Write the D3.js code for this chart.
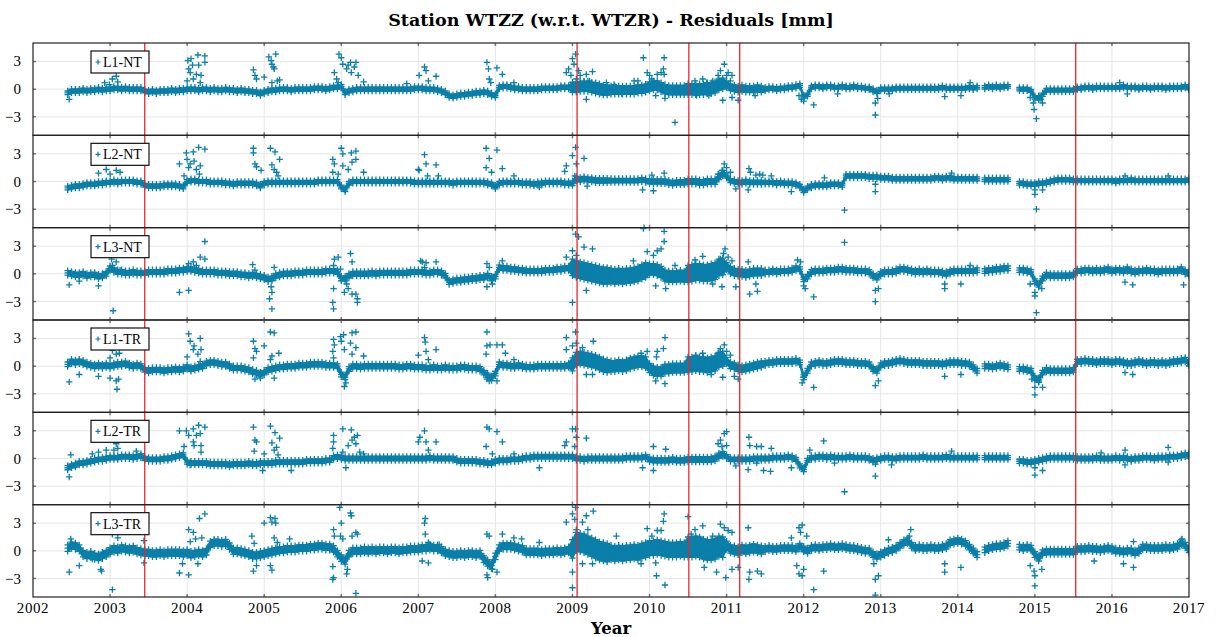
<!DOCTYPE html>
<html><head><meta charset="utf-8">
<script src="https://cdn.jsdelivr.net/npm/d3@7"></script>
<style>body{margin:0;background:#fff}svg{display:block}</style>
</head><body><svg id="c" width="1218" height="637"></svg>
<script>
// ---------------- DATA ----------------
const title = "Station WTZZ (w.r.t. WTZR) - Residuals [mm]";
const xLabel = "Year";
const xTicks = [2002,2003,2004,2005,2006,2007,2008,2009,2010,2011,2012,2013,2014,2015,2016,2017];
const yTicks = [-3,0,3];
const panelNames = ["L1-NT","L2-NT","L3-NT","L1-TR","L2-TR","L3-TR"];
const breakEpochs = [2003.45, 2009.06, 2010.51, 2011.17, 2015.53];
const firstEpoch = 2002.45, sampleStep = 0.05;

// band samples, one row per year (2002 starts at 2002.45), every 0.05 yr
const L1NT = [
[-0.4,-0.2,-0.2,-0.2,-0.1,-0.2,-0.1,-0.1,0,-0.1,0],
[0,0.1,0.1,0,0.1,0,0,0,0,-0.2,-0.3,-0.2,-0.3,-0.2,-0.2,-0.2,-0.1,-0.2,-0.1,-0.1],
[0,0,0,-0.1,0,0,-0.1,0,-0.1,-0.1,0,-0.1,-0.1,-0.2,-0.1,-0.2,-0.2,-0.3,-0.3,-0.5],
[-0.3,-0.2,-0.1,-0.1,0,0,0,-0.1,0,0,0,0,0,0.1,0.1,0.1,0,0.1,0.2,0.2],
[0.3,-0.4,-0.2,-0.1,0,0,0,0,0,0,0,0,0,0,0,0,0,0,0,0.1],
[0.1,0.1,0,0,0,-0.1,-0.2,-0.4,-0.7,-0.8,-0.7,-0.6,-0.6,-0.5,-0.5,-0.4,-0.4,-0.3,-0.4,-0.6],
[-0.7,0.2,0.3,0.3,0.2,0.1,0.1,0,0,0,0,0,0.1,0.1,0.1,0.1,0.1,0.2,0.2,0.2],
[0.2,0.2,0.3,0.3,0.3,0.2,0.1,0,-0.1,-0.1,-0.1,-0.1,-0.1,-0.1,-0.1,-0.1,-0.1,0,0,0.1],
[0.3,0.4,0.4,0.2,0,-0.1,-0.1,-0.1,-0.1,-0.1,0,0,0,0,0,0.1,0.1,0.2,0.5,0.6],
[0.5,0.2,0.1,0,0.1,0,0,0,0.1,0,0,0.1,0.1,0,0.1,0.1,0.2,0.2,0.3,0.4],
[-0.8,-0.6,0.2,0.3,0.3,0.2,0.3,0.3,0.2,0.2,0.3,0.2,0.2,0.3,0.2,0.2,0.1,0.1,-0.1,-0.3],
[0,0,0,0,0.1,0.1,0.1,0.1,0.1,0.1,0.1,0.1,0.1,0.1,0.1,0.1,0.2,0.1,0.1,0.1],
[0.1,0.1,0.1,0.2,0.1,0.2,null,0.2,0.3,0.2,0.3,0.2,0.3,0.3,null,null,0,0,0,-0.2],
[-0.9,-1.0,-0.6,-0.1,-0.1,-0.1,-0.1,-0.1,-0.1,-0.1,-0.1,0.1,0.1,0.2,0.2,0.1,0.2,0.2,0.2,0.2],
[0.2,0.2,0.2,0.3,0.2,0.2,0.2,0.1,0.2,0.2,0.1,0.2,0.2,0.2,0.1,0.2,0.2,0.2,0.2,0.3],
[0.1]];
const L2NT = [
[-0.7,-0.6,-0.5,-0.5,-0.4,-0.3,-0.3,-0.3,-0.2,-0.2,-0.1],
[-0.1,0,-0.1,0,0,0,0,-0.1,-0.1,-0.4,-0.5,-0.5,-0.5,-0.5,-0.4,-0.4,-0.4,-0.4,-0.5,-0.6],
[0,0.1,0.1,0,0,0,-0.1,-0.1,-0.1,-0.1,-0.2,-0.2,-0.3,-0.2,-0.2,-0.2,-0.2,-0.2,-0.3,-0.5],
[-0.2,-0.1,-0.1,-0.1,-0.1,-0.1,-0.1,-0.1,-0.1,-0.1,-0.1,-0.1,-0.1,-0.1,0,0,0,0,0,0],
[-0.6,-0.9,-0.2,0,0,0,0,0,0,0,0,0,0,0,0,0,0,0,0,-0.1],
[-0.1,-0.1,-0.1,-0.1,-0.1,-0.1,-0.1,-0.1,-0.1,-0.2,-0.1,-0.1,-0.1,-0.1,-0.1,-0.1,-0.1,-0.1,-0.2,-0.3],
[-0.6,-0.2,-0.1,-0.1,-0.1,-0.1,-0.1,-0.2,-0.2,-0.2,-0.3,-0.2,-0.2,-0.1,-0.1,-0.1,-0.1,-0.1,-0.2,-0.2],
[-0.2,0.3,0.2,0.3,0.2,0.2,0.1,0.1,0.1,0.1,0.1,0.1,0.1,0.1,0.1,0.1,0.1,0.1,0.2,0.1],
[0,0,0,0,0,-0.1,-0.2,-0.1,-0.1,-0.1,0,0,0,-0.1,-0.1,0,0,0,0.5,0.9],
[0.6,0.1,0,-0.1,-0.1,0,-0.1,-0.1,-0.1,-0.1,-0.1,-0.1,-0.1,-0.2,-0.1,-0.2,-0.2,-0.2,-0.3,-0.5],
[-1.0,-0.7,-0.5,-0.4,-0.4,-0.4,-0.4,-0.3,-0.3,-0.3,-0.4,0.6,0.6,0.6,0.6,0.6,0.6,0.5,0.5,0.5],
[0.4,0.4,0.4,0.3,0.3,0.3,0.3,0.3,0.3,0.3,0.3,0.3,0.3,0.3,0.4,0.4,0.3,0.4,0.4,0.3],
[0.3,0.3,0.3,0.3,0.3,0.3,null,0.2,0.2,0.2,0.2,0.2,0.2,0.2,null,null,-0.2,-0.2,-0.3,-0.3],
[-0.3,-0.2,-0.2,-0.1,0,0.1,0.2,0.2,0.2,0.2,0.1,0.1,0.1,0.1,0.1,0.1,0.1,0.1,0.1,0.1],
[0.1,0,0.1,0.1,0.1,0.2,0.1,0.1,0.1,0.1,0.1,0.1,0.1,0.1,0.1,0.1,0.1,0.1,0.1,0.1],
[0.2]];
const L3NT = [
[0.1,0,-0.1,-0.1,0,-0.2,-0.1,-0.1,-0.3,-0.2,0],
[0.6,0.4,0.2,0.2,0.1,0.1,0.2,0.1,0.1,0.1,0.2,0.2,0.2,0.2,0.2,0.3,0.3,0.3,0.4,0.4],
[0.5,0.5,0.4,0.3,0.2,0.2,0.2,0.2,0.1,0.1,0.1,0,0,0,-0.1,-0.1,-0.2,-0.1,-0.2,-0.3],
[-0.4,-0.6,-0.5,-0.2,-0.1,0,0,0,0.1,0.1,0.1,0.2,0.2,0.2,0.2,0.2,0.3,0.3,0.3,0.2],
[-0.5,-0.5,-0.2,0,0,0,0,0,0.1,0,0.1,0.1,0.1,0.1,0.1,0.1,0.1,0.1,0.2,0.2],
[0.2,0.2,0.1,0.1,0.2,0.2,0.1,-0.2,-0.9,-0.8,-0.7,-0.7,-0.6,-0.6,-0.5,-0.5,-0.4,-0.4,-0.2,-0.5],
[-0.3,0.7,0.6,0.6,0.5,0.5,0.4,0.4,0.3,0.3,0.3,0.3,0.3,0.4,0.4,0.4,0.5,0.5,0.6,0.6],
[0.7,0.5,0.4,0.3,0.2,0.1,0,-0.1,-0.2,-0.2,-0.2,-0.3,-0.2,-0.3,-0.2,-0.2,-0.1,0,0.2,0.4],
[0.5,0.5,0.4,0.2,-0.2,-0.3,-0.3,-0.3,-0.2,-0.3,0,0.1,0.2,0.2,0.1,0.1,0.2,0.3,0.7,0.8],
[0.8,0.4,0.2,0.1,0.1,0,0.1,0.2,0.2,0.2,0.2,0.2,0.3,0.2,0.3,0.3,0.3,0.4,0.6,0.5],
[-0.6,-0.3,0.2,0.3,0.3,0.3,0.4,0.4,0.4,0.5,0.5,0.4,0.4,0.4,0.3,0.3,0.3,0.2,-0.2,-0.4],
[0,0.2,0.2,0.2,0.3,0.5,0.5,0.4,0.3,0.2,0.3,0.2,0.3,0.2,0.2,0.2,0.1,0,0.2,0.3],
[0.3,0.3,0.3,0.3,0.3,0.4,null,0.3,0.4,0.4,0.5,0.5,0.6,0.6,null,null,0.4,0.4,0.3,0.2],
[-0.8,-1.2,-0.5,-0.1,-0.2,-0.2,-0.2,-0.2,-0.2,-0.2,-0.1,0.3,0.3,0.4,0.4,0.3,0.4,0.3,0.4,0.5],
[0.3,0.4,0.4,0.3,0.5,0.3,0.2,0.3,0.3,0.4,0.3,0.3,0.2,0.3,0.3,0.3,0.3,0.3,0.5,0.2],
[0]];
const L1TR = [
[0.2,0.5,0.4,0.5,0.4,0.2,0.1,0,0.1,0,0.1],
[0,0.1,0.2,0.2,0.3,0.1,0,0.1,0,-0.4,-0.5,-0.4,-0.4,-0.4,-0.5,-0.4,-0.4,-0.3,-0.4,-0.3],
[-0.1,-0.3,-0.2,-0.1,0,0.3,0.4,0.4,0.3,0.2,0.2,0,-0.2,-0.2,-0.2,-0.3,-0.4,-0.6,-0.7,-0.9],
[-0.7,-0.4,-0.3,-0.2,-0.1,-0.1,0,0,0,0.1,0.1,0.1,0.2,0.2,0.2,0.2,0.1,0.1,0.1,0],
[-0.9,-1.2,-0.3,0,0,-0.1,0,0,0,0,0,0,0,0,0,-0.1,-0.1,0,0,-0.1],
[-0.1,-0.1,-0.2,-0.2,-0.1,-0.2,-0.2,-0.1,-0.2,-0.2,-0.2,-0.1,-0.1,-0.2,-0.2,-0.2,-0.3,-0.7,-1.0,-1.3],
[-0.8,0.2,0.1,0.1,0,0,0.1,0,-0.1,-0.1,-0.1,0,0,0,0,0,0,0,0,0.1],
[0.2,0.8,0.9,0.8,0.7,0.6,0.5,0.3,0.1,0,0,0,0.1,0,0.1,0.3,0.4,0.5,0.5,0.4],
[-0.2,-0.5,-0.6,-0.6,-0.3,-0.3,-0.2,-0.2,-0.2,-0.2,0.2,0.2,0.3,0.2,0.2,0.1,0.2,0.3,0.7,0.8],
[0.6,0.1,0,-0.2,-0.3,-0.2,-0.1,0,0.1,0.2,0.3,0.4,0.4,0.5,0.5,0.5,0.5,0.5,0.6,0.4],
[-1.2,-0.5,0.2,0.3,0.4,0.3,0.3,0.4,0.5,0.5,0.5,0.4,0.4,0.4,0.3,0.3,0.3,0.2,-0.3,-0.5],
[0.1,0.3,0.3,0.4,0.5,0.6,0.5,0.4,0.4,0.4,0.4,0.3,0.3,0.3,0.3,0.3,0.2,0.3,0.4,0.4],
[0.4,0.3,0.3,0.2,-0.1,-0.5,null,0,0,-0.1,0,0.1,0,-0.1,null,null,-0.3,-0.3,-0.4,-0.5],
[-1.3,-1.5,-0.7,-0.4,-0.5,-0.5,-0.5,-0.5,-0.5,-0.5,-0.4,0.5,0.5,0.6,0.5,0.5,0.4,0.5,0.5,0.5],
[0.4,0.5,0.5,0.4,0.3,0.3,0.4,0.5,0.4,0.3,0.4,0.4,0.3,0.4,0.3,0.4,0.5,0.5,0.6,0.7],
[0.3]];
const L2TR = [
[-1.0,-0.8,-0.7,-0.5,-0.5,-0.4,-0.3,-0.2,-0.1,-0.1,0],
[0.1,0.1,0.1,0.2,0.2,0.2,0.1,0.2,0.3,0,-0.1,-0.1,-0.1,-0.1,0,0,0.1,0.2,0.3,0.4],
[-0.4,-0.5,-0.5,-0.5,-0.5,-0.5,-0.6,-0.6,-0.6,-0.6,-0.6,-0.7,-0.6,-0.6,-0.6,-0.6,-0.5,-0.6,-0.6,-0.5],
[-0.5,-0.5,-0.5,-0.4,-0.4,-0.4,-0.4,-0.4,-0.4,-0.4,-0.4,-0.3,-0.3,-0.3,-0.3,-0.3,-0.2,-0.2,0.1,0.2],
[0.1,0,0,0,0,0,0,0,0,0,0,0,0,0,0,0,0,0,0,0],
[0,0,0,0.1,0,0,0,0,0,0,-0.2,-0.3,-0.3,-0.3,-0.3,-0.3,-0.4,-0.4,-0.5,-0.5],
[-0.3,-0.2,-0.2,-0.2,-0.1,-0.1,-0.1,0,0.1,0.1,0.2,0.2,0.2,0.2,0.2,0.2,0.2,0.2,0.2,0.2],
[0.2,0,0,-0.1,0,0,0,0,0,0,0,0,0,0,0.1,0.1,0.1,0.1,0.1,0.2],
[-0.1,-0.2,-0.2,-0.2,-0.2,-0.2,-0.1,-0.2,-0.2,-0.2,-0.1,-0.1,-0.1,-0.1,-0.1,-0.1,-0.1,0,0.3,0.5],
[0.2,-0.1,-0.1,-0.1,-0.1,-0.1,-0.1,0,0,0,0,0,0.1,0.1,0.1,0.1,0.2,0.1,-0.1,-0.8],
[-1.2,-0.2,0.1,0.1,0.2,0.2,0.1,0.2,0.1,0.1,0.1,0.1,0.2,0.1,0.1,0.1,0.1,0,-0.2,-0.1],
[0,0.1,0.1,0,0,0.1,0.1,0.1,0.1,0.1,0.1,0.2,0.1,0.1,0.1,0.1,0.1,0.2,0.1,0.1],
[0.1,0.1,0.1,0.1,0.1,0.1,null,0.1,0.1,0.1,0.1,0.1,0.1,0.1,null,null,-0.3,-0.3,-0.4,-0.4],
[-0.3,-0.2,-0.1,0,0.1,0.1,0.1,0.1,0.1,0.1,0.1,0,0,0,0,0,0.1,0,0,0],
[0,0.1,0,0.1,0,-0.1,0,0,0.1,0.1,0.1,0,0.1,0.1,0.1,0.2,0.2,0.2,0.3,0.4],
[0.4]];
const L3TR = [
[0.3,0.6,0.5,0.3,-0.3,-0.5,-0.4,-0.6,-0.7,-0.5,-0.3],
[0,0.2,0.1,0.3,0.2,0.1,0.2,0,-0.1,-0.2,-0.2,-0.3,-0.3,-0.2,-0.3,-0.2,-0.2,-0.2,-0.2,-0.3],
[-0.2,-0.4,-0.3,-0.2,-0.3,-0.1,0.7,0.9,0.9,0.8,0.9,0.5,0,0,-0.1,-0.2,-0.3,-0.5,-0.5,-0.4],
[-0.3,-0.2,-0.1,0,0.1,0.1,0.2,0.2,0.2,0.3,0.3,0.3,0.4,0.4,0.5,0.5,0.4,0.4,0.2,-0.3],
[-0.8,-1.1,-0.3,0,0,0,0.1,0,0.1,0,0.1,0.1,0,0.1,0.1,0,0.1,0.1,0.2,0.2],
[0.2,0.3,0.3,0.4,0.3,0.3,0.1,-0.2,-0.3,-0.4,-0.4,-0.3,-0.4,-0.3,-0.3,-0.4,-0.3,-0.9,-1.3,-1.6],
[-0.6,0.3,0.5,0.5,0.5,0.4,0.3,0.2,-0.1,-0.1,-0.1,-0.1,-0.2,-0.1,-0.1,-0.1,0,-0.1,0,0.1],
[0.2,1.0,0.9,0.8,0.6,0.4,0.2,0,-0.1,-0.2,-0.2,-0.3,-0.2,-0.3,-0.2,-0.2,-0.1,-0.2,0,0.1],
[0.3,0.3,0.4,0.3,0.2,0.1,0.1,0.1,0.2,0.1,0.4,0.4,0.5,0.4,0.2,0.1,0.1,0.2,0.5,0.4],
[0.6,0.2,0.1,0,0.2,0.1,0.2,0.3,0.2,0.1,0.2,0.3,0.2,0.2,0.3,0.3,0.3,0.3,0.2,0.5],
[0.2,0,0.3,0.4,0.3,0.4,0.4,0.5,0.4,0.4,0.5,0.4,0.3,0.3,0.2,0.1,0,0,-0.4,-0.6],
[-0.4,-0.2,0,0.1,0.3,0.6,0.9,1.1,0.6,0.3,0.4,0.3,0.3,0.4,0.3,0.3,0.4,0.5,0.9,1.0],
[1.1,1.0,0.8,0.4,0,-0.4,null,0.1,0.3,0.4,0.5,0.5,0.6,0.8,null,null,0.4,0.3,0.4,0.3],
[-0.4,-0.8,-0.2,-0.1,-0.1,-0.1,-0.1,-0.1,-0.1,-0.1,-0.1,0.2,0.2,0.2,0.3,0.2,0.2,0.1,0.2,0.3],
[0.2,0,0,-0.1,0,0,-0.2,0,0.4,0.4,0.3,0.3,0.3,0.3,0.4,0.3,0.4,0.5,0.9,0.6],
[0.1]];

// half-width of the residual band per half-year (2002.0, 2002.5, ... 2017.0), mm
const L1NT_spread = [0.2,0.2,0.2,0.2,0.2,0.2,0.2,0.2,0.2,0.2,0.2,0.2,0.2,0.2,0.55,0.45,0.5,0.6,0.35,0.2,0.18,0.18,0.18,0.18,0.18,0.18,0.18,0.18,0.18,0.18,0.18];
const L2NT_spread = [0.2,0.2,0.2,0.2,0.2,0.2,0.2,0.2,0.2,0.2,0.2,0.2,0.2,0.2,0.25,0.22,0.25,0.3,0.22,0.2,0.2,0.2,0.2,0.2,0.2,0.2,0.2,0.2,0.2,0.2,0.2];
const L3NT_spread = [0.25,0.25,0.25,0.25,0.25,0.25,0.25,0.25,0.25,0.25,0.25,0.25,0.25,0.25,0.9,0.8,0.6,0.9,0.4,0.25,0.25,0.25,0.25,0.25,0.25,0.25,0.25,0.25,0.25,0.25,0.25];
const L1TR_spread = [0.25,0.25,0.25,0.25,0.25,0.25,0.25,0.25,0.25,0.25,0.25,0.25,0.25,0.25,0.7,0.6,0.5,0.8,0.35,0.25,0.25,0.25,0.25,0.25,0.25,0.25,0.25,0.25,0.25,0.25,0.25];
const L2TR_spread = [0.22,0.22,0.22,0.22,0.22,0.22,0.22,0.22,0.22,0.22,0.22,0.22,0.22,0.22,0.22,0.22,0.25,0.28,0.22,0.22,0.22,0.22,0.22,0.22,0.22,0.22,0.22,0.22,0.22,0.22,0.22];
const L3TR_spread = [0.35,0.35,0.35,0.35,0.35,0.35,0.35,0.35,0.35,0.35,0.35,0.35,0.35,0.35,1.0,0.8,0.8,1.1,0.45,0.3,0.3,0.3,0.3,0.3,0.3,0.3,0.3,0.3,0.3,0.3,0.3];

// isolated residuals [epoch, mm]
const L1NT_out = [[2002.47,-1.1],[2002.93,0.7],[2003.03,1.1],[2003.08,1.4],[2003.1,0.8],[2002.99,0.5],
[2004.01,3.1],[2004.05,3.3],[2004.14,3.7],[2004.23,3.6],[2004.23,2.9],[2004.02,2.2],[2004.04,1.8],[2004.07,2.6],[2004.15,2.6],[2004.12,1.6],[2004.18,1.5],[2004.0,0.9],[2004.08,1.1],[2004.17,0.7],
[2004.86,2.1],[2004.88,1.5],[2004.9,1.1],[2005.0,1.3],[2005.06,3.5],[2005.09,3.1],[2005.1,2.7],[2005.13,2.2],[2005.15,3.8],[2005.12,2.4],[2005.17,0.9],[2005.2,1.0],[2005.1,0.7],
[2005.97,3.8],[2006.0,3.4],[2005.91,1.8],[2005.94,1.1],[2006.02,2.7],[2006.07,2.2],[2006.12,2.9],[2006.13,1.8],[2006.17,2.4],[2006.19,2.9],[2006.22,1.5],[2006.29,0.8],[2006.09,2.6],[2005.96,0.7],
[2007.01,1.5],[2007.08,2.4],[2007.1,2.0],[2007.13,0.9],[2007.23,1.4],[2006.85,0.6],
[2007.89,2.9],[2007.91,2.2],[2008.02,2.3],[2008.09,1.6],[2007.92,1.1],[2007.94,0.7],[2008.24,0.7],
[2009.04,3.8],[2009.0,3.3],[2009.02,2.7],[2008.95,2.2],[2008.92,1.8],[2009.08,2.0],[2009.1,1.5],[2009.18,1.6],[2009.26,1.9],[2009.18,-1.1],[2008.98,1.5],[2009.05,1.1],
[2009.15,0.8],[2009.22,0.9],[2009.3,0.7],[2009.35,0.6],[2009.44,0.7],[2009.54,0.5],[2009.64,-0.5],
[2009.92,3.4],[2010.19,3.4],[2009.97,1.8],[2010.0,1.5],[2010.03,1.1],[2010.15,1.8],[2010.18,2.2],[2010.19,1.6],[2010.1,1.6],[2009.85,0.9],[2009.8,0.9],[2010.33,-3.6],[2010.2,-1.0],[2010.08,-0.7],
[2010.97,2.7],[2010.92,2.0],[2010.89,1.5],[2011.0,1.5],[2011.02,1.8],[2011.07,1.5],[2010.94,0.7],[2011.05,0.9],[2010.95,-1.2],[2011.07,-0.9],[2011.15,-1.2],[2010.59,0.9],[2010.69,1.1],[2010.74,0.7],[2010.82,0.9],[2010.77,-0.7],[2010.61,-0.7],
[2011.94,-0.7],[2011.97,-1.1],[2012.0,-1.3],[2012.13,-1.7],[2011.37,-0.7],[2012.44,-0.5],
[2012.93,-1.5],[2012.93,-2.8],[2012.96,-1.0],[2013.11,-0.5],[2013.83,-0.8],[2014.04,-0.7],[2014.16,0.7],
[2014.94,-0.9],[2014.98,-1.5],[2014.99,-2.2],[2015.02,-3.2],[2015.08,-1.1],[2015.1,-1.5],[2015.05,-0.7],[2016.1,0.7],[2016.2,-0.5]];
const L2NT_out = [[2002.85,0.9],[2002.95,1.3],[2003.0,0.8],[2003.08,1.2],[2003.13,1.0],
[2003.9,1.9],[2003.99,3.1],[2004.08,3.2],[2004.15,3.7],[2004.23,3.5],[2004.0,2.4],[2004.04,1.9],[2004.09,2.2],[2004.17,1.7],[2004.02,1.5],[2004.12,1.3],[2004.16,0.8],[2003.96,0.6],
[2004.86,3.6],[2004.86,3.1],[2004.88,1.9],[2004.9,1.6],[2004.96,1.2],[2005.08,3.6],[2005.14,3.2],[2005.1,1.8],[2005.2,2.4],[2005.13,1.3],[2005.16,1.0],[2005.18,0.6],
[2005.89,2.4],[2005.91,1.9],[2005.89,1.0],[2006.0,3.6],[2006.02,3.0],[2006.13,3.1],[2006.19,3.3],[2006.14,2.1],[2006.19,2.4],[2006.02,1.7],[2005.96,0.8],[2006.09,1.3],[2006.29,1.0],
[2007.08,2.9],[2007.1,1.9],[2007.23,1.8],[2007.0,1.3],[2007.01,1.2],[2007.12,0.6],[2007.26,0.6],
[2007.88,3.6],[2007.92,2.5],[2007.88,1.5],[2007.95,1.0],[2008.02,3.4],[2008.09,1.4],[2008.24,0.6],[2008.57,-0.6],
[2009.04,3.7],[2009.0,2.8],[2008.92,1.7],[2008.9,1.1],[2009.05,1.9],[2009.15,2.5],[2009.19,-0.5],[2009.03,0.6],
[2009.91,-0.9],[2010.05,-1.0],[2010.19,0.9],[2010.03,0.7],[2009.93,-5.0],[2010.97,1.9],[2011.0,1.5],[2010.94,1.2],[2011.05,1.0],[2010.89,0.8],
[2011.29,1.4],[2011.31,1.0],[2011.38,0.7],[2011.43,0.8],[2011.47,0.7],[2011.58,0.6],[2011.28,-0.9],[2011.12,-0.8],[2011.84,-1.1],[2012.27,0.4],
[2012.53,-3.1],[2012.93,-0.3],[2012.93,-1.1],[2013.92,0.9],[2015.0,-0.9],[2015.0,-1.4],[2015.02,-3.0],[2015.1,-0.9],[2016.17,0.6],[2016.73,0.6]];
const L3NT_out = [[2002.47,-1.2],[2002.6,-0.8],[2002.85,-1.3],[2003.02,1.6],[2003.03,0.9],[2003.08,1.3],[2003.04,-4.0],[2003.13,0.4],
[2003.9,-2.0],[2004.02,-1.8],[2004.02,1.1],[2004.08,1.3],[2004.17,1.8],[2004.23,1.6],[2004.23,3.5],[2004.12,0.9],
[2004.85,1.0],[2005.09,-1.4],[2005.1,-2.0],[2005.07,-2.7],[2005.1,-3.8],[2005.13,0.7],[2004.88,0.4],
[2005.91,1.6],[2005.9,0.9],[2005.9,-1.6],[2005.89,-3.1],[2005.9,-3.8],[2005.96,1.8],[2005.99,0.5],[2006.12,2.2],[2006.14,1.3],[2006.07,-1.1],[2006.09,-1.6],[2006.04,-2.0],[2006.14,-2.2],[2006.19,-2.2],[2006.21,-2.7],[2006.21,-3.1],
[2007.03,1.4],[2007.05,1.3],[2007.1,1.2],[2007.23,1.3],[2007.08,0.7],[2007.89,1.1],[2007.92,0.7],[2007.89,-1.4],[2007.96,-1.1],[2008.09,1.4],
[2009.0,-3.1],[2009.04,4.3],[2009.08,4.0],[2009.0,2.5],[2008.92,1.8],[2009.05,2.0],[2009.15,2.9],[2009.26,2.7],[2009.18,-1.8],
[2009.92,4.9],[2010.19,4.6],[2010.19,3.5],[2010.15,2.7],[2009.97,2.4],[2010.1,2.5],[2010.05,2.0],[2009.79,1.4],[2010.21,-1.6],[2010.08,-1.3],[2010.33,0.9],
[2010.69,1.9],[2010.59,1.5],[2010.98,2.7],[2010.96,2.2],[2010.92,1.6],[2011.02,1.8],[2011.07,1.4],[2011.3,-2.2],[2011.4,-1.9],[2011.38,-1.1],[2011.28,1.3],[2010.82,-1.1],[2010.94,-1.4],[2011.12,-1.4],
[2011.92,1.5],[2011.96,1.3],[2012.0,-1.3],[2012.02,-1.6],[2012.13,-2.5],[2012.53,3.4],[2012.93,-1.8],[2012.97,-1.6],[2012.93,-3.0],
[2013.83,-1.1],[2013.83,-1.6],[2014.04,-1.1],[2014.16,0.9],[2014.94,-1.1],[2015.0,-2.0],[2015.0,-2.4],[2015.02,-4.2],[2015.09,-1.6],[2016.17,-0.9],[2016.27,-1.2],[2016.93,-1.2]];
const L1TR_out = [[2002.47,-1.7],[2002.6,-0.9],[2002.85,-1.1],[2003.0,-1.3],[2003.03,1.7],[2003.0,0.9],[2003.08,1.3],[2003.12,1.4],[2003.08,-1.6],[2003.09,-2.5],[2003.11,-1.4],
[2004.02,3.5],[2004.04,2.7],[2004.09,2.2],[2004.17,3.0],[2004.18,1.8],[2004.08,1.8],[2004.14,1.3],[2004.17,0.5],[2004.0,1.0],
[2004.86,2.7],[2004.88,1.9],[2004.9,1.6],[2004.86,0.9],[2005.0,2.2],[2005.08,3.7],[2005.13,3.6],[2005.1,1.1],[2005.19,1.4],[2005.08,0.7],[2004.88,-1.4],[2004.95,-1.3],[2005.13,-1.3],
[2005.9,2.9],[2005.91,2.3],[2005.89,1.6],[2005.9,0.9],[2005.99,3.2],[2006.03,3.4],[2006.0,2.7],[2006.04,1.8],[2006.14,3.6],[2006.19,3.7],[2006.12,2.5],[2006.14,1.3],[2006.19,2.0],[2006.29,1.1],[2006.04,-2.2],[2006.06,-1.8],
[2007.0,1.2],[2007.08,3.1],[2007.09,2.6],[2007.1,1.6],[2007.23,1.8],[2007.13,0.7],
[2007.89,3.7],[2007.89,2.2],[2007.93,2.3],[2007.88,1.3],[2008.02,2.3],[2008.09,2.3],[2008.13,1.4],[2008.24,0.7],[2007.89,-1.4],[2007.92,-1.6],[2008.02,-1.6],
[2009.04,3.7],[2008.92,3.1],[2009.05,2.5],[2008.92,1.8],[2009.0,2.2],[2009.13,2.0],[2009.27,2.7],[2009.18,-0.9],[2009.26,-0.9],
[2010.2,3.1],[2010.18,1.9],[2010.1,1.6],[2010.09,1.0],[2009.89,1.4],[2009.97,1.6],[2010.2,-1.9],[2010.08,-1.6],
[2010.97,2.3],[2010.92,1.9],[2010.89,1.4],[2011.0,1.6],[2011.05,1.2],[2010.6,1.2],[2010.69,1.4],[2010.8,-0.9],[2010.95,-1.2],[2011.1,-1.1],[2011.15,-1.4],
[2011.98,-1.8],[2012.13,-2.3],[2012.0,-1.2],[2012.93,-2.1],[2012.97,-1.6],[2013.83,-1.1],[2014.04,-0.9],
[2015.0,-3.1],[2015.0,-2.3],[2015.1,-2.3],[2014.96,-1.4],[2015.05,-1.7],[2016.17,-0.7],[2016.27,-0.9]];
const L2TR_out = [[2002.47,-2.0],[2002.49,0.4],[2002.77,0.5],[2002.85,0.7],[2002.95,0.9],[2003.05,0.9],[2003.1,1.1],[2003.08,1.6],[2003.34,0.8],
[2003.9,3.0],[2003.99,3.0],[2004.02,2.5],[2004.08,3.2],[2004.15,3.6],[2004.23,3.4],[2004.12,2.5],[2004.17,2.7],[2004.08,1.8],[2004.09,1.4],[2004.18,1.4],[2003.96,1.3],[2004.18,0.7],[2004.04,-0.7],
[2004.86,3.4],[2004.88,2.0],[2004.9,1.8],[2004.87,0.8],[2005.0,0.5],[2005.08,3.5],[2005.14,2.8],[2005.1,1.7],[2005.2,2.2],[2005.13,0.9],[2005.16,1.2],[2005.18,0.4],[2004.98,-1.3],[2005.35,-1.3],
[2005.9,2.5],[2005.9,1.8],[2005.89,1.1],[2006.02,3.2],[2006.13,3.1],[2006.17,2.3],[2006.21,2.5],[2006.14,2.0],[2006.19,1.6],[2006.09,1.4],[2006.02,0.7],[2006.24,0.7],[2006.29,0.5],[2006.06,-1.0],
[2007.02,2.3],[2007.08,3.0],[2007.1,1.8],[2007.23,1.8],[2007.0,1.8],[2007.13,0.9],
[2007.89,3.4],[2007.92,3.2],[2008.02,2.9],[2008.09,1.8],[2007.88,1.3],[2007.96,0.5],[2008.24,0.5],[2008.57,-1.0],
[2009.0,3.2],[2009.04,3.2],[2009.05,2.3],[2009.18,2.2],[2008.92,1.8],[2008.9,1.4],[2009.03,1.3],
[2009.91,-1.0],[2010.05,-1.3],[2010.05,1.3],[2010.21,1.0],[2010.89,1.6],[2010.92,2.0],[2010.97,2.7],[2011.0,2.9],[2010.94,1.3],[2011.0,1.4],
[2011.29,2.3],[2011.3,1.4],[2011.39,1.3],[2011.45,1.3],[2011.58,1.1],[2011.12,-0.8],[2011.28,-1.2],[2011.39,-0.5],[2011.48,-1.3],[2011.57,-1.4],[2011.84,-1.0],
[2012.26,1.9],[2012.08,0.9],[2012.4,-0.5],[2012.53,-3.6],[2012.93,-0.6],[2012.93,-1.9],[2013.14,-0.7],[2013.92,0.8],
[2015.0,-1.0],[2015.0,-1.8],[2015.1,-1.3],[2015.86,0.6],[2016.17,0.9],[2016.17,-0.7],[2016.73,1.2],[2016.73,-0.4]];
const L3TR_out = [[2002.47,-2.3],[2002.49,1.3],[2002.6,-1.6],[2002.88,-2.0],[2002.89,-2.2],[2002.77,-0.9],[2003.03,-4.2],[2003.03,1.8],[2003.1,1.4],[2003.44,1.1],[2003.44,-1.3],
[2003.9,-2.4],[2004.02,-2.6],[2004.02,2.3],[2004.08,2.0],[2004.16,3.5],[2004.23,4.0],[2004.04,1.0],[2004.11,1.3],[2004.19,1.4],[2004.14,-1.4],[2003.94,-1.4],
[2004.86,-2.2],[2004.9,-1.6],[2005.08,-1.6],[2005.1,-2.1],[2004.87,0.8],[2004.84,1.6],[2005.08,3.6],[2005.14,3.5],[2005.1,3.1],[2005.15,3.0],[2005.0,3.0],[2005.13,1.4],[2005.17,0.9],[2005.33,1.3],
[2005.9,2.3],[2005.91,1.6],[2005.89,-1.7],[2005.9,-2.9],[2005.89,-3.1],[2005.98,4.7],[2006.0,3.0],[2005.99,1.6],[2006.02,1.3],[2006.12,4.1],[2006.13,3.8],[2006.14,1.6],[2006.07,-2.5],[2006.08,-2.0],[2006.19,2.0],[2006.21,1.8],[2006.19,-4.6],
[2007.09,3.5],[2007.08,3.0],[2007.09,1.8],[2007.13,0.9],[2007.27,0.7],[2007.13,-1.3],[2007.05,-1.1],
[2007.89,1.8],[2007.92,1.6],[2008.09,1.8],[2007.9,-2.9],[2007.89,-2.6],[2008.02,-2.3],[2007.96,-2.0],[2008.24,1.4],[2008.34,1.3],[2008.57,0.9],
[2009.0,-4.0],[2009.0,-2.3],[2008.92,3.1],[2009.0,4.0],[2009.04,4.7],[2009.03,3.4],[2009.05,2.3],[2009.13,3.1],[2009.18,3.8],[2009.27,4.3],[2009.15,1.6],[2009.2,2.3],[2009.26,-1.4],[2009.13,-1.4],
[2010.19,4.0],[2010.18,3.2],[2010.15,2.2],[2010.1,2.2],[2009.97,2.4],[2010.03,1.6],[2010.08,-1.3],[2010.09,-2.7],[2010.2,-3.7],[2009.89,-1.4],[2009.57,1.6],
[2010.5,3.7],[2010.54,1.8],[2010.69,2.7],[2010.59,2.3],[2010.82,1.6],[2010.92,2.9],[2010.97,2.5],[2011.02,2.2],[2011.07,2.0],[2010.71,-1.8],[2010.87,-2.3],[2010.99,-2.9],[2011.07,-2.0],[2011.15,-1.8],
[2011.28,2.5],[2011.3,-2.3],[2011.29,-3.1],[2011.4,-2.2],[2011.45,-2.5],
[2011.84,1.4],[2011.94,2.5],[2011.98,2.8],[2011.96,2.0],[2012.04,1.6],[2011.91,-1.6],[2011.94,-2.5],[2011.98,-2.7],[2012.0,-2.0],[2012.13,-4.2],[2012.26,-2.2],
[2012.93,-3.1],[2012.97,-2.7],[2012.93,-4.8],[2012.91,-1.4],[2013.1,1.2],[2013.39,2.3],[2013.37,1.6],[2013.83,-1.4],[2013.83,-2.3],[2014.04,-1.8],
[2014.94,-1.6],[2014.99,-2.2],[2015.0,-2.7],[2015.0,-3.8],[2015.09,-2.0],[2015.77,-1.1],[2016.15,-1.4],[2016.28,-1.8],[2016.28,1.0],[2016.91,1.3]];

const bands = [L1NT, L2NT, L3NT, L1TR, L2TR, L3TR];
const spreads = [L1NT_spread, L2NT_spread, L3NT_spread, L1TR_spread, L2TR_spread, L3TR_spread];
const isolated = [L1NT_out, L2NT_out, L3NT_out, L1TR_out, L2TR_out, L3TR_out];

// ---------------- DRAW ----------------
const svg = d3.select("#c");
const left = 33, right = 1189, top0 = 43, bottom0 = 597;
const ph = (bottom0 - top0) / 6;
const markColor = "#0a7fa9";
const serif = "'Liberation Serif','DejaVu Serif',serif";
const titleFont = "'DejaVu Serif','Liberation Serif',serif";
const x = d3.scaleLinear().domain([2002, 2017]).range([left, right]);
const plus = "M-3.2,0H3.2M0,-3.2V3.2";

svg.append("text").attr("x", 611).attr("y", 26).attr("text-anchor", "middle")
  .attr("font-family", titleFont).attr("font-weight", "bold").attr("font-size", 17.5)
  .text(title);

panelNames.forEach((name, k) => {
  const t = top0 + k * ph, b = t + ph;
  const y = d3.scaleLinear().domain([-5, 5]).range([b, t]);
  const g = svg.append("g");
  g.append("clipPath").attr("id", "clip" + k).append("rect")
    .attr("x", left).attr("y", t).attr("width", right - left).attr("height", ph);
  // grid
  g.append("g").selectAll("line").data(xTicks.slice(1, -1)).join("line")
    .attr("x1", d => x(d)).attr("x2", d => x(d)).attr("y1", t).attr("y2", b)
    .attr("stroke", "#e6e6e6").attr("stroke-width", 1);
  g.append("g").selectAll("line").data(yTicks).join("line")
    .attr("x1", left).attr("x2", right).attr("y1", d => y(d)).attr("y2", d => y(d))
    .attr("stroke", "#e6e6e6").attr("stroke-width", 1);
  // ticks (inside)
  g.append("g").selectAll("path").data(xTicks.slice(1, -1)).join("path")
    .attr("d", d => `M${x(d)},${b}v-3M${x(d)},${t}v3`).attr("stroke", "#7a7a7a").attr("stroke-width", 1.5);
  g.append("g").selectAll("path").data(yTicks).join("path")
    .attr("d", d => `M${left},${y(d)}h3M${right},${y(d)}h-3`).attr("stroke", "#7a7a7a").attr("stroke-width", 1.5);

  // band samples with their read spread
  const samples = [];
  bands[k].forEach((row, r) => {
    const start = r === 0 ? firstEpoch : 2002 + r;
    row.forEach((v, j) => {
      const tt = start + j * sampleStep;
      samples.push({t: tt, v, w: spreads[k][Math.min(spreads[k].length - 1, Math.floor((tt - 2002) * 2))]});
    });
  });
  const dg = g.append("g").attr("clip-path", `url(#clip${k})`);
  const area = d3.area().defined(d => d.v !== null)
    .x(d => x(d.t)).y0(d => y(d.v - d.w)).y1(d => y(d.v + d.w));
  dg.append("path").datum(samples).attr("d", area)
    .attr("fill", markColor).attr("stroke", markColor).attr("stroke-width", 1.5).attr("stroke-linejoin", "round");
  const valid = samples.filter(d => d.v !== null);
  const edgePts = valid.flatMap(d => [[d.t, d.v + d.w], [d.t, d.v - d.w]]);
  const pts = valid.map(d => [d.t, d.v]).concat(edgePts, isolated[k]);
  dg.selectAll("path.pt").data(pts).join("path").attr("class", "pt")
    .attr("transform", d => `translate(${x(d[0]).toFixed(2)},${y(d[1]).toFixed(2)})`)
    .attr("d", plus).attr("stroke", markColor).attr("stroke-width", 1.3).attr("fill", "none");

  // event lines
  g.append("g").selectAll("line").data(breakEpochs).join("line")
    .attr("x1", d => x(d)).attr("x2", d => x(d)).attr("y1", t).attr("y2", b)
    .attr("stroke", "#e8262b").attr("stroke-width", 1.3);

  // box
  g.append("rect").attr("x", left).attr("y", t).attr("width", right - left).attr("height", ph)
    .attr("fill", "none").attr("stroke", "#222").attr("stroke-width", 1.2);

  // y tick labels
  g.append("g").selectAll("text").data(yTicks).join("text")
    .attr("x", 21).attr("y", d => y(d) + 5).attr("text-anchor", "end")
    .attr("font-family", serif).attr("font-size", 15)
    .text(d => d < 0 ? "\u2212" + Math.abs(d) : d);

  // legend
  const lg = g.append("g").attr("transform", `translate(91,${t + 8})`);
  lg.append("rect").attr("width", 58).attr("height", 22).attr("fill", "#fff").attr("stroke", "#111").attr("stroke-width", 1.2);
  lg.append("path").attr("d", "M-2.5,0H2.5M0,-2.5V2.5").attr("transform", "translate(7,11)")
    .attr("stroke", markColor).attr("stroke-width", 1.2);
  lg.append("text").attr("x", 12).attr("y", 16).attr("font-family", serif).attr("font-size", 14).text(name);
});

// x tick labels (bottom)
svg.append("g").selectAll("text").data(xTicks).join("text")
  .attr("x", d => x(d)).attr("y", bottom0 + 16).attr("text-anchor", "middle")
  .attr("font-family", serif).attr("font-size", 15).attr("letter-spacing", 0.6)
  .text(d => d);
svg.append("text").attr("x", 611).attr("y", 634).attr("text-anchor", "middle")
  .attr("font-family", titleFont).attr("font-weight", "bold").attr("font-size", 16.5).text(xLabel);
</script></body></html>
